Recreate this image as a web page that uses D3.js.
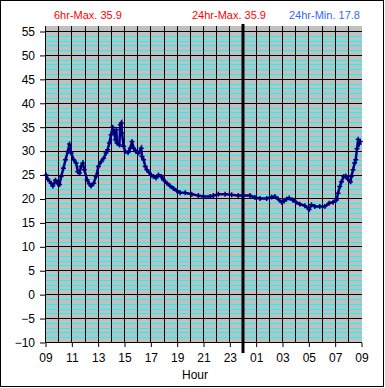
<!DOCTYPE html>
<html>
<head>
<meta charset="utf-8">
<script src="https://cdn.jsdelivr.net/npm/d3@7"></script>
<style>
  body { margin: 0; background: #fff; }
  svg { display: block; font-family: "Liberation Sans", Arial, sans-serif; }
</style>
</head>
<body>
<svg id="chart" width="385" height="388"></svg>
<script>
// hours after 09:00
var hours = [0.05, 0.17, 0.43, 0.55, 0.76, 0.93, 1.06, 1.19, 1.36, 1.52, 1.69, 1.82, 1.95, 2.14, 2.33, 2.45,
  2.58, 2.70, 2.83, 2.95, 3.16, 3.33, 3.46, 3.66, 3.84, 4.02, 4.22, 4.42, 4.60, 4.72, 4.85, 4.98,
  5.10, 5.23, 5.30, 5.38, 5.43, 5.61, 5.68, 5.76, 5.81, 5.93, 6.06, 6.27, 6.44, 6.57, 6.69, 6.87,
  7.07, 7.27, 7.33, 7.45, 7.58, 7.70, 7.83, 8.03, 8.20, 8.39, 8.58, 8.79, 8.96, 9.22, 9.47, 9.72,
  9.98, 10.23, 10.61, 11.11, 11.61, 11.99, 12.50, 12.75, 13.13, 13.64, 14.14, 14.64, 15.02, 15.53,
  15.91, 16.29, 16.80, 17.17, 17.42, 17.67, 17.93, 18.11, 18.31, 18.51, 18.77, 19.02, 19.32, 19.70,
  20.02, 20.20, 20.45, 20.83, 21.21, 21.54, 21.84, 22.10, 22.22, 22.35, 22.48, 22.65, 22.80, 22.98,
  23.16, 23.23, 23.36, 23.48, 23.56, 23.66, 23.75, 23.83, 23.91];

var temps = [25.0, 24.1, 23.3, 22.7, 23.9, 23.2, 23.0, 24.7, 26.4, 28.2, 29.9, 31.5, 29.6, 28.2, 27.5, 25.7,
  25.4, 26.8, 27.5, 26.1, 24.0, 23.2, 22.7, 23.3, 24.7, 26.8, 27.8, 28.5, 29.6, 30.3, 31.7, 33.4,
  35.0, 33.8, 32.4, 34.5, 31.7, 31.3, 35.5, 35.9, 33.8, 31.0, 29.9, 29.7, 30.6, 32.0, 30.6, 29.9,
  29.6, 30.6, 28.9, 28.2, 26.8, 26.1, 25.7, 25.0, 24.7, 24.4, 25.0, 24.7, 24.0, 23.3, 22.7, 22.2,
  21.7, 21.3, 21.3, 21.0, 20.7, 20.5, 20.5, 20.7, 21.0, 21.0, 20.9, 20.7, 20.7, 20.7,
  20.3, 20.1, 20.1, 20.4, 20.5, 20.0, 19.3, 19.5, 20.0, 20.2, 19.8, 19.3, 18.9, 18.6,
  17.8, 18.8, 18.4, 18.4, 18.4, 19.1, 19.3, 19.8, 21.2, 22.6, 23.6, 24.7, 24.8, 24.1,
  23.6, 24.7, 26.1, 27.5, 28.2, 30.5, 32.5, 31.5, 32.0];

var hourLabels = ["09", "11", "13", "15", "17", "19", "21", "23", "01", "03", "05", "07", "09"];
var yTicks = [-10, -5, 0, 5, 10, 15, 20, 25, 30, 35, 40, 45, 50, 55];
var headers = ["6hr-Max. 35.9", "24hr-Max. 35.9", "24hr-Min. 17.8"];

var svg = d3.select("#chart");

var x = d3.scaleLinear().domain([0, 24]).range([45.5, 361.5]);
var y = d3.scaleLinear().domain([-10, 55]).range([342.5, 31.5]);
var crisp = function (v) { return Math.round(v - 0.5) + 0.5; };

// outer frame
svg.append("rect").attr("x", 0.5).attr("y", 0.5).attr("width", 383).attr("height", 386)
  .attr("fill", "#fff").attr("stroke", "#000");

/******** plot background + grid ********/
svg.append("rect").attr("x", 45).attr("y", 26).attr("width", 317).attr("height", 317)
  .attr("fill", "#c0c0c0");

var minor = d3.range(-9, 55).filter(function (v) { return v % 5 !== 0; });
svg.append("g").selectAll("line").data(minor).enter().append("line")
  .attr("x1", 45).attr("x2", 362)
  .attr("y1", function (d) { return crisp(y(d)); }).attr("y2", function (d) { return crisp(y(d)); })
  .attr("stroke", "#00ffff");

svg.append("g").selectAll("line").data(yTicks).enter().append("line")
  .attr("x1", 45).attr("x2", 362)
  .attr("y1", function (d) { return crisp(y(d)); }).attr("y2", function (d) { return crisp(y(d)); })
  .attr("stroke", "#000");

svg.append("g").selectAll("line").data(d3.range(0, 24)).enter().append("line")
  .attr("x1", function (d) { return crisp(x(d)); }).attr("x2", function (d) { return crisp(x(d)); })
  .attr("y1", 26).attr("y2", 343)
  .attr("stroke", "#000");

/******** axes ********/
var yAxis = svg.append("g").attr("transform", "translate(45,0)")
  .call(d3.axisLeft(y).tickValues(yTicks).tickSize(5).tickPadding(5));
yAxis.select(".domain").remove();
yAxis.selectAll("text").attr("font-size", 12).attr("font-family", "Liberation Sans, Arial").attr("fill", "#000");

var xAxis = svg.append("g").attr("transform", "translate(0,343)")
  .call(d3.axisBottom(x).tickValues(d3.range(0, 25, 2)).tickSize(4).tickPadding(6.5)
    .tickFormat(function (d, i) { return hourLabels[i]; }));
xAxis.select(".domain").remove();
xAxis.selectAll("text").attr("font-size", 12).attr("font-family", "Liberation Sans, Arial").attr("fill", "#000");

svg.append("text").attr("x", 195).attr("y", 379).attr("text-anchor", "middle")
  .attr("font-size", 12).text("Hour");

// midnight marker
svg.append("line").attr("x1", x(15)).attr("x2", x(15)).attr("y1", 24).attr("y2", 353)
  .attr("stroke", "#000").attr("stroke-width", 3);

/******** temperature series ********/
var pts = hours.map(function (h, i) { return [h, temps[i]]; });
var line = d3.line().x(function (d) { return x(d[0]); }).y(function (d) { return y(d[1]); });

svg.append("path").datum(pts).attr("d", line)
  .attr("fill", "none").attr("stroke", "#000080").attr("stroke-width", 2.5);

svg.append("g").selectAll("path").data(pts).enter().append("path")
  .attr("transform", function (d) { return "translate(" + x(d[0]) + "," + y(d[1]) + ")"; })
  .attr("d", "M-2.5,0H2.5M0,-2.5V2.5")
  .attr("stroke", "#000080").attr("stroke-width", 1.5);

/******** header values ********/
var headX = [54, 192, 289];
var headColor = ["#ff0000", "#ff0000", "#3366ff"];
svg.append("g").selectAll("text").data(headers).enter().append("text")
  .attr("x", function (d, i) { return headX[i]; }).attr("y", 18.5)
  .attr("font-size", 11).attr("fill", function (d, i) { return headColor[i]; })
  .text(function (d) { return d; });
</script>
</body>
</html>
